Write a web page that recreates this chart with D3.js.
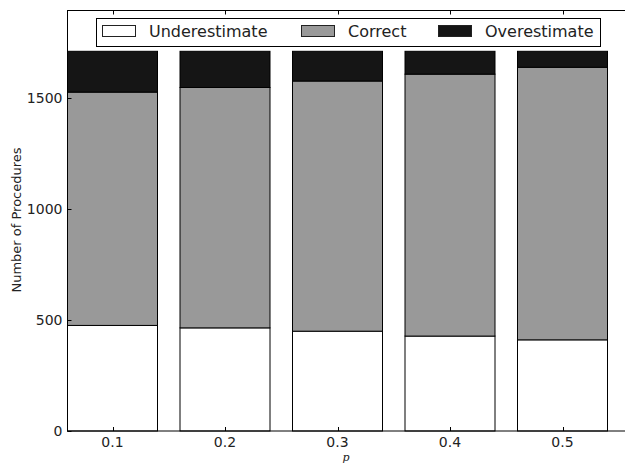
<!DOCTYPE html>
<html><head><meta charset="utf-8">
<script src="https://cdn.jsdelivr.net/npm/d3@7"></script>
<style>body{margin:0;background:#fff}svg{display:block;font-family:"DejaVu Sans",sans-serif}</style>
</head><body><svg id="c" width="625" height="467"></svg>
<script>
const categories = ["0.1","0.2","0.3","0.4","0.5"];
const seriesNames = ["Underestimate","Correct","Overestimate"];
const underestimate = [476, 465, 450, 428, 411];
const correct = [1052, 1084, 1128, 1181, 1229];
const overestimate = [184, 163, 134, 103, 72];
const yTicks = [0, 500, 1000, 1500];
const colors = ["#ffffff", "#999999", "#151515"];

(function(){
const svg = d3.select("#c");
const mL = 67.5, mT = 10.5, mB = 431, mR = 630;
const x = d3.scaleLinear().domain([-0.4, 4.6]).range([mL, mR]);
const y = d3.scaleLinear().domain([0, 1896]).range([mB, mT]);

const rows = categories.map((c, i) => ({cat: c, i, Underestimate: underestimate[i], Correct: correct[i], Overestimate: overestimate[i]}));
const stack = d3.stack().keys(seriesNames)(rows);

stack.forEach((s, k) => {
  svg.append("g").selectAll("rect").data(s).join("rect")
    .attr("x", d => x(d.data.i - 0.4))
    .attr("width", d => x(d.data.i + 0.4) - x(d.data.i - 0.4))
    .attr("y", d => y(d[1]))
    .attr("height", d => y(d[0]) - y(d[1]))
    .attr("fill", colors[k])
    .attr("stroke", "#000").attr("stroke-width", 1);
});

svg.append("rect").attr("x", mL).attr("y", mT).attr("width", mR - mL).attr("height", mB - mT)
  .attr("fill", "none").attr("stroke", "#000").attr("stroke-width", 1);

const xAxis = svg.append("g");
categories.forEach((c, i) => {
  const px = Math.round(x(i)) + 0.5;
  xAxis.append("line").attr("x1", px).attr("x2", px).attr("y1", mB).attr("y2", mB - 4).attr("stroke", "#000");
  xAxis.append("line").attr("x1", px).attr("x2", px).attr("y1", mT).attr("y2", mT + 4).attr("stroke", "#000");
  xAxis.append("text").attr("x", x(i)).attr("y", mB + 16).attr("text-anchor", "middle")
    .attr("font-size", 14).attr("fill", "#222").text(c);
});
const yAxis = svg.append("g");
yTicks.forEach(t => {
  const py = Math.round(y(t)) + 0.5;
  yAxis.append("line").attr("x1", mL).attr("x2", mL + 4).attr("y1", py).attr("y2", py).attr("stroke", "#000");
  yAxis.append("text").attr("x", mL - 5).attr("y", y(t)).attr("dy", "0.35em").attr("text-anchor", "end")
    .attr("font-size", 14).attr("fill", "#222").text(t);
});

svg.append("text").attr("transform", `translate(21,220) rotate(-90)`)
  .attr("text-anchor", "middle").attr("font-size", 13).attr("fill", "#222").text("Number of Procedures");
svg.append("text").attr("x", 346).attr("y", 461).attr("text-anchor", "middle")
  .attr("font-family", "DejaVu Serif, serif").attr("font-style", "italic").attr("font-size", 11).attr("fill", "#222").text("p");

const lg = svg.append("g");
lg.append("rect").attr("x", 96.5).attr("y", 18.5).attr("width", 504).attr("height", 28)
  .attr("fill", "#fff").attr("stroke", "#000").attr("stroke-width", 1);
const lx = [102, 301, 438];
seriesNames.forEach((n, k) => {
  lg.append("rect").attr("x", lx[k] + 0.5).attr("y", 25.5).attr("width", 33).attr("height", 11)
    .attr("fill", colors[k]).attr("stroke", "#222").attr("stroke-width", 1);
  lg.append("text").attr("x", lx[k] + 47).attr("y", 31.5).attr("dy", "0.35em").attr("font-size", 16)
    .attr("fill", "#222").text(n);
});
})();
</script></body></html>
